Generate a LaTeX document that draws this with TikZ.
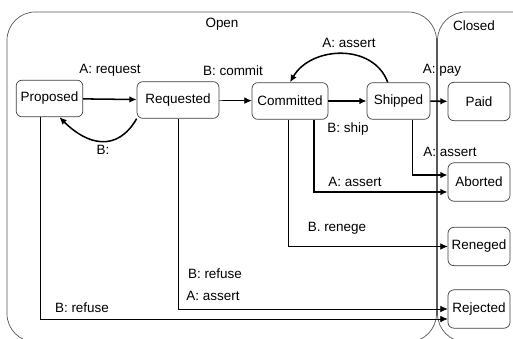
\documentclass[tikz,border=0pt]{standalone}
\usepackage{fontspec}
\setmainfont{Liberation Sans}
\usetikzlibrary{arrows.meta,positioning,calc}

\begin{document}
\begin{tikzpicture}[x=0.3mm, y=0.3mm,
  font=\fontsize{11.5}{13}\selectfont,
  region/.style={draw=black!65, rounded corners=0.85cm, fill=white, line width=0.6pt},
  state/.style={draw=black!75, rounded corners=5pt, align=center, minimum height=1.1cm, inner xsep=3pt, fill=white, line width=0.6pt},
  final/.style={state, minimum width=1.86cm, minimum height=1.15cm},
  lbl/.style={inner sep=1pt},
  arr/.style={-{Latex[length=2.2mm, width=2mm]}, line width=0.6pt},
  tarr/.style={arr, line width=1.3pt}]
\useasboundingbox (0,0) rectangle (513,-339);
% regions
\draw[region] (7,-12) rectangle (436.5,-342);
\draw[region] (437.5,-12) rectangle (540,-342);
\node[lbl] (open)   at (222,-24) {Open};
\node[lbl] (closed) at (474,-26) {Closed};
% open states
\node[state, minimum width=2.0cm]  (prop) at (49.5,-98.5) {Proposed};
\node[state, minimum width=2.46cm] (req)  at (178,-100)   {Requested};
\node[state, minimum width=2.28cm] (com)  at (290,-101)   {Committed};
\node[state, minimum width=1.89cm] (ship) at (398.5,-101) {Shipped};
% closed states
\node[final] (paid)   at (479,-101.5) {Paid};
\node[final] (abort)  at (479,-182)   {Aborted};
\node[final] (reneg)  at (479,-246.5) {Reneged};
\node[final] (reject) at (479,-309)   {Rejected};
% transitions along the top row
\draw[tarr] (prop) -- (req);
\draw[arr] (req) -- (com);
\draw[tarr] (com) -- (ship);
\draw[tarr] (ship) -- (paid);
\draw[tarr] (req.south west) to[out=-120, in=-45, looseness=1.3] (prop.-62);
\draw[tarr] (ship.120) to[out=110, in=60, looseness=1.1] (com.north);
% transitions down to the closed states
\draw[tarr] ([xshift=0.42cm]ship.south) |- ([yshift=0.21cm]abort.west);
\draw[tarr] ([xshift=0.72cm]com.south) |- ([yshift=-0.3cm]abort.west);
\draw[arr] ([xshift=-0.06cm]com.south) |- (reneg.west);
\draw[arr] (req.south) |- (reject.west);
\draw[arr] ([xshift=-0.28cm]prop.south) |- ([yshift=-0.3cm]reject.west);
% labels
\node[lbl] (lreq)    at (110,-70)  {A: request};
\node[lbl] (lcom)    at (233,-71)  {B: commit};
\node[lbl] (lback)   at (103,-150) {B:};
\node[lbl] (lassert) at (349,-43)  {A: assert};
\node[lbl] (lship)   at (348,-129) {B: ship};
\node[lbl] (lpay)    at (442,-70)  {A: pay};
\node[lbl] (labs)    at (450,-152) {A: assert};
\node[lbl] (labc)    at (355,-182) {A: assert};
\node[lbl] (lren)    at (337,-228) {B. renege};
\node[lbl] (lrefr)   at (215,-274) {B: refuse};
\node[lbl] (lassr)   at (213,-296) {A: assert};
\node[lbl] (lrefp)   at (82,-308)  {B: refuse};
\end{tikzpicture}
\end{document}
